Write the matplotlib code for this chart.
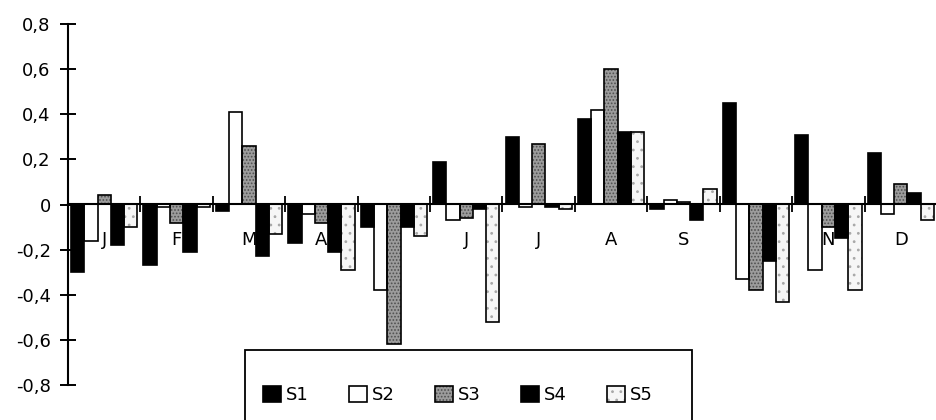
import numpy as np
import matplotlib
matplotlib.use("Agg")
import matplotlib.pyplot as plt
from matplotlib.patches import Rectangle
from matplotlib.ticker import FixedLocator, FuncFormatter

plt.rcParams['font.family'] = ['DejaVu Sans']
plt.rcParams['hatch.linewidth'] = 0.8

months = ['J', 'F', 'M', 'A', 'M', 'J', 'J', 'A', 'S', 'O', 'N', 'D']
series_names = ['S1', 'S2', 'S3', 'S4', 'S5']

s1 = [-0.30, -0.27, -0.03, -0.17, -0.10, 0.19, 0.30, 0.38, -0.02, 0.45, 0.31, 0.23]
s2 = [-0.16, -0.01, 0.41, -0.04, -0.38, -0.07, -0.01, 0.42, 0.02, -0.33, -0.29, -0.04]
s3 = [0.04, -0.08, 0.26, -0.08, -0.62, -0.06, 0.27, 0.60, 0.01, -0.38, -0.10, 0.09]
s4 = [-0.18, -0.21, -0.23, -0.21, -0.10, -0.02, -0.01, 0.32, -0.07, -0.25, -0.15, 0.05]
s5 = [-0.10, -0.01, -0.13, -0.29, -0.14, -0.52, -0.02, 0.32, 0.07, -0.43, -0.38, -0.07]
values = [s1, s2, s3, s4, s5]

# face colour, hatch, hatch colour for each series
styles = [
    ('black', None, 'black'),
    ('white', None, 'white'),
    ('#9c9c9c', '.....', '#505050'),
    ('black', None, 'black'),
    ('#f6f6f6', '..', '#a8a8a8'),
]

fig = plt.figure(figsize=(9.37, 4.2), dpi=100)
ax = fig.add_axes([68 / 937, 35 / 420, 869 / 937, 361 / 420])

x = np.arange(len(months))
width = 0.183
handles = []
for k, (vals, (face, hatch, hcol)) in enumerate(zip(values, styles)):
    pos = x + (k - 2) * width
    ax.bar(pos, vals, width, color=face, hatch=hatch, edgecolor=hcol,
           linewidth=0, zorder=2)
    ax.bar(pos, vals, width, fill=False, edgecolor='black', linewidth=1.2, zorder=2.2)
    h_fill = Rectangle((0, 0), 1, 1, facecolor=face, hatch=hatch, edgecolor=hcol, linewidth=0)
    h_edge = Rectangle((0, 0), 1, 1, fill=False, edgecolor='black', linewidth=1.2)
    handles.append((h_fill, h_edge))

# month letters sit just under the zero line, behind the bars
for i, m in enumerate(months):
    ax.annotate(m, (i, 0), xytext=(0, -36), textcoords='offset pixels',
                ha='center', va='center', fontsize=13, zorder=0.5)

ax.set_xlim(-0.5, len(months) - 0.5)
ax.set_ylim(-0.8, 0.8)

ax.spines['top'].set_visible(False)
ax.spines['right'].set_visible(False)
ax.spines['left'].set_linewidth(1.5)
ax.spines['bottom'].set_position(('data', 0))
ax.spines['bottom'].set_linewidth(1.5)

ax.set_yticks(np.arange(-0.8, 0.81, 0.2))
ax.yaxis.set_major_formatter(FuncFormatter(
    lambda v, p: '0' if abs(v) < 1e-9 else f'{v:.1f}'.replace('.', ',')))
ax.tick_params(axis='y', direction='inout', length=11, width=1.4, pad=7, labelsize=13)

ax.set_xticks(x)
ax.set_xticklabels([])
ax.tick_params(axis='x', which='major', length=0)
ax.xaxis.set_minor_locator(FixedLocator(np.arange(0.5, len(months), 1.0)))
ax.tick_params(axis='x', which='minor', direction='inout', length=11, width=1.3)

# legend frame runs off the bottom of the figure
frame = Rectangle((245 / 937, -0.1), 447 / 937, 70 / 420 + 0.1,
                  transform=fig.transFigure, facecolor='white',
                  edgecolor='black', linewidth=1.3, zorder=4)
fig.add_artist(frame)

leg = fig.legend(handles, series_names, ncol=5, loc='center',
                 bbox_to_anchor=(458 / 937, 25 / 420), frameon=False,
                 fontsize=13, handlelength=1.0, handleheight=1.0,
                 handletextpad=0.3, columnspacing=2.2)
leg.set_zorder(6)

fig.savefig('out.png', dpi=100)
